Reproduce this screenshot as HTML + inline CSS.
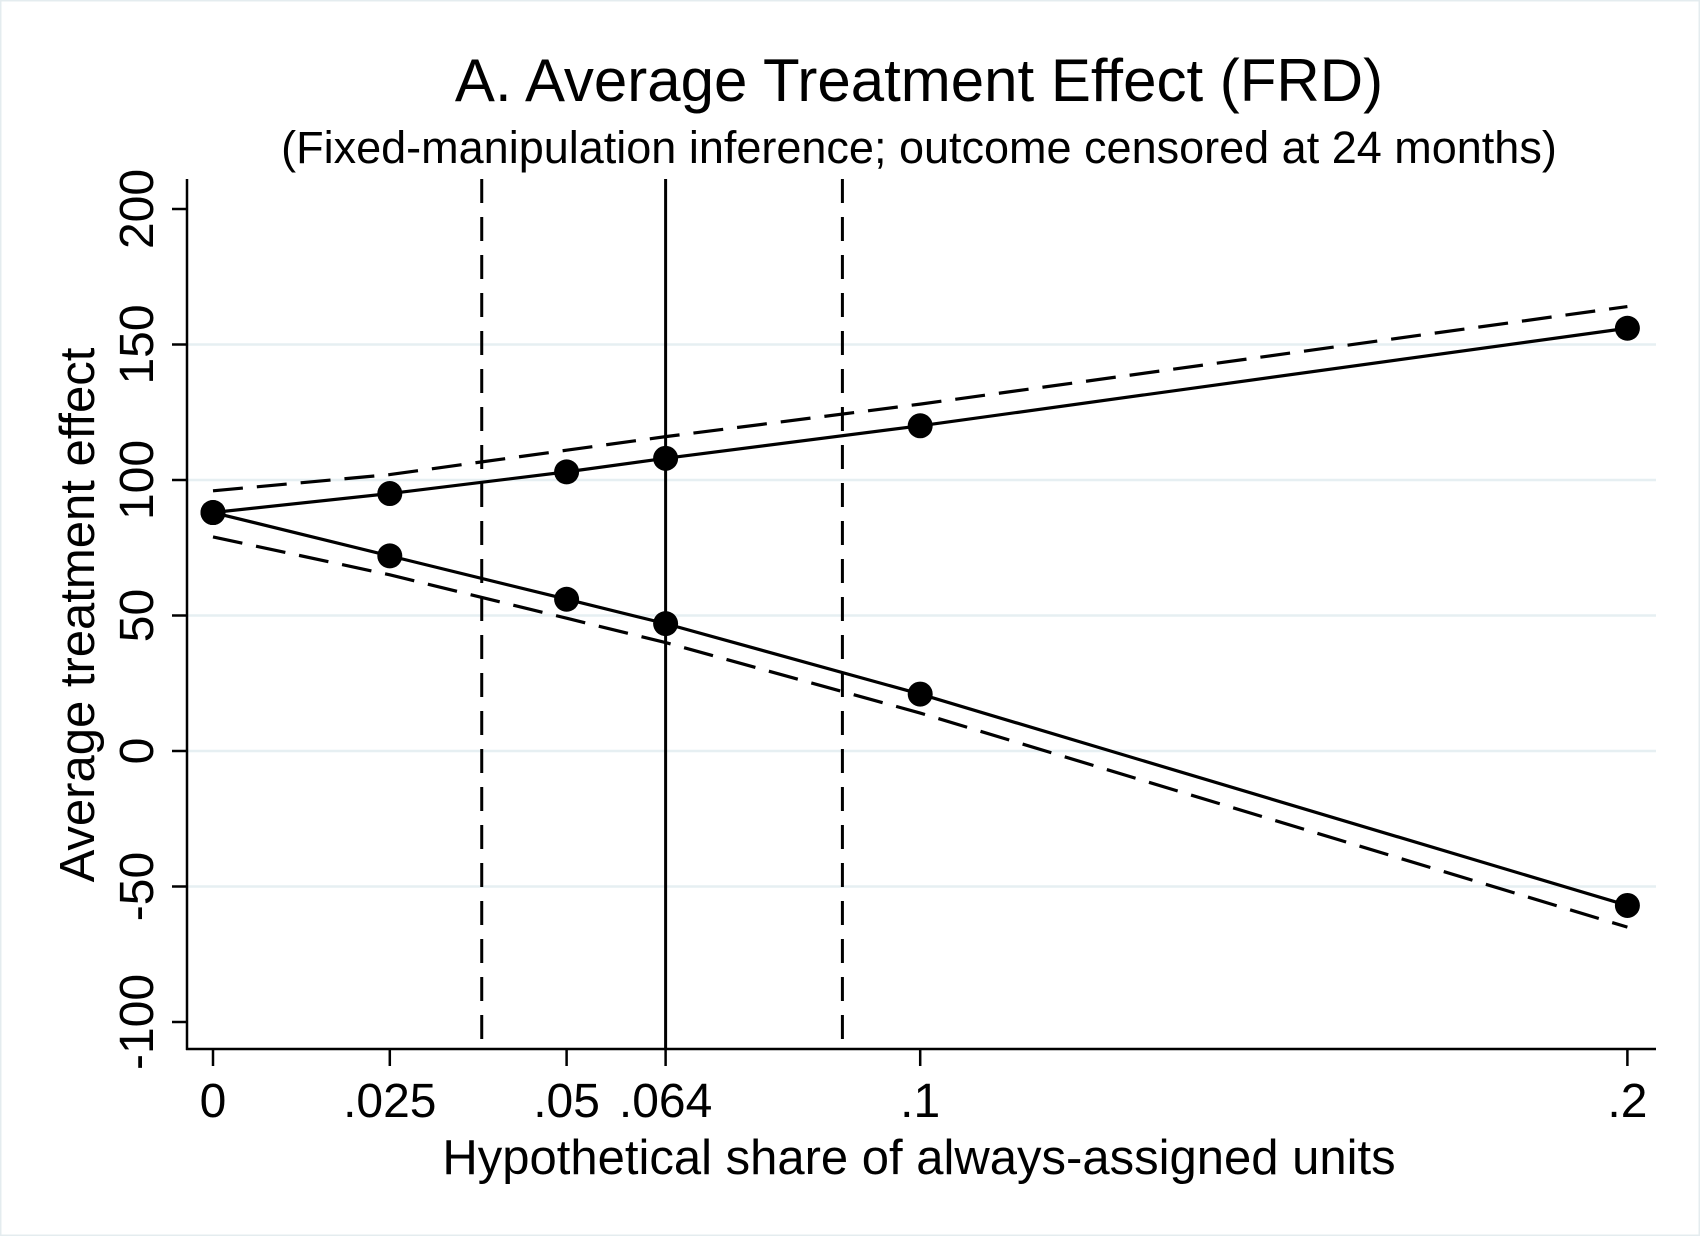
<!DOCTYPE html>
<html><head><meta charset="utf-8"><style>
html,body{margin:0;padding:0;background:#fff}
svg{display:block}
text{font-family:"Liberation Sans",Arial,sans-serif;fill:#000}
</style></head><body>
<svg id="chart" width="1700" height="1236" viewBox="0 0 1700 1236" xmlns="http://www.w3.org/2000/svg">
<rect x="0.5" y="0.5" width="1699" height="1235" fill="#fff" stroke="#e4ecef" stroke-width="2"/>
<text x="919" y="101" font-size="60" text-anchor="middle">A. Average Treatment Effect (FRD)</text>
<text x="919" y="163" font-size="45" text-anchor="middle">(Fixed-manipulation inference; outcome censored at 24 months)</text>
<text transform="translate(94,615) rotate(-90)" font-size="49" text-anchor="middle">Average treatment effect</text>
<text x="919" y="1174" font-size="49" text-anchor="middle">Hypothetical share of always-assigned units</text>
<g id="grid"></g><g id="marks"></g><g id="axes"></g>
</svg>
<script>
const xTicks=[0,0.025,0.05,0.064,0.1,0.2];
const xTickLabels=["0",".025",".05",".064",".1",".2"];
const yTicks=[-100,-50,0,50,100,150,200];
const yTickLabels=["-100","-50","0","50","100","150","200"];
const shares=[0,0.025,0.05,0.064,0.1,0.2];
const upperEst=[88,95,103,108,120,156];
const lowerEst=[88,72,56,47,21,-57];
const upperCI=[96,102,111,116,128,164];
const lowerCI=[79,65,49,40,14,-65];
const vDashed=[0.038,0.089];
const vSolid=[0.064];

const X0=213,XS=7072,Y0=751,YS=2.71;
const sx=v=>X0+v*XS, sy=v=>Y0-v*YS;
const NS="http://www.w3.org/2000/svg";
const L=187,R=1656,T=179,B=1049;
function mk(tag,attrs,parent){const e=document.createElementNS(NS,tag);for(const k in attrs)e.setAttribute(k,attrs[k]);document.getElementById(parent).appendChild(e);return e;}
yTicks.forEach((v,i)=>{
  if(v===-100||v===200) return;
  const g=mk('line',{x1:L,x2:R,y1:sy(v),y2:sy(v),stroke:'#e6eff2','stroke-width':2.5},'grid');
  
  
});
vDashed.forEach((v,i)=>{
  const l=mk('line',{x1:sx(v),x2:sx(v),y1:T,y2:B,stroke:'#000','stroke-width':3,'stroke-dasharray':'24 14'},'marks');
  
  
});
vSolid.forEach(v=>{
  const l=mk('line',{x1:sx(v),x2:sx(v),y1:T,y2:B,stroke:'#000','stroke-width':3},'marks');
  
  
});
function poly(xs,ys,name,dash){
  const p=mk('polyline',{points:xs.map((x,i)=>sx(x)+','+sy(ys[i])).join(' '),fill:'none',stroke:'#000','stroke-width':3.2},'marks');
  if(dash)p.setAttribute('stroke-dasharray','30 14');
  
  
}
poly(shares,upperCI,'upper-ci-line',true);
poly(shares,lowerCI,'lower-ci-line',true);
poly(shares,upperEst,'upper-bound-line',false);
poly(shares,lowerEst,'lower-bound-line',false);
shares.forEach((s,i)=>{
  const a=mk('circle',{cx:sx(s),cy:sy(upperEst[i]),r:12.5,fill:'#000'},'marks');
  
  
  const b=mk('circle',{cx:sx(s),cy:sy(lowerEst[i]),r:12.5,fill:'#000'},'marks');
  
  
});
let ax=mk('line',{x1:L,x2:L,y1:T,y2:B+1,stroke:'#000','stroke-width':2.5},'axes');


ax=mk('line',{x1:L-1,x2:R,y1:B,y2:B,stroke:'#000','stroke-width':2.5},'axes');


yTicks.forEach((v,i)=>{
  const t=mk('line',{x1:L-15,x2:L,y1:sy(v),y2:sy(v),stroke:'#000','stroke-width':2.5},'axes');
  
  
  const tx=mk('text',{transform:`translate(153,${sy(v)}) rotate(-90)`,'font-size':48,'text-anchor':'middle'},'axes');
  tx.textContent=yTickLabels[i];
  
  
});
xTicks.forEach((v,i)=>{
  const t=mk('line',{x1:sx(v),x2:sx(v),y1:B,y2:B+17,stroke:'#000','stroke-width':2.5},'axes');
  
  
  const tx=mk('text',{x:sx(v),y:1117,'font-size':48,'text-anchor':'middle'},'axes');
  tx.textContent=xTickLabels[i];
  
  
});
</script>
</body></html>
